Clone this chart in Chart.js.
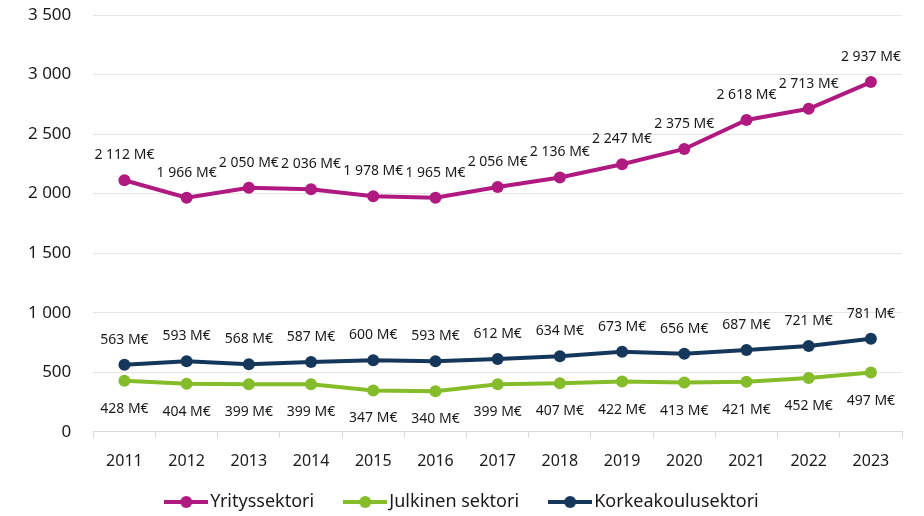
<!DOCTYPE html>
<html>
<head>
<meta charset="utf-8">
<script src="https://cdn.jsdelivr.net/npm/chart.js@4"></script>
<style>
html,body{margin:0;padding:0;background:#fff;}
#wrap{width:924px;height:516px;position:relative;}
</style>
</head>
<body>
<div id="wrap"><canvas id="line-chart"></canvas></div>
<script>
var years = ["2011","2012","2013","2014","2015","2016","2017","2018","2019","2020","2021","2022","2023"];
var yritys = [2112,1966,2050,2036,1978,1965,2056,2136,2247,2375,2618,2713,2937];
var julkinen = [428,404,399,399,347,340,399,407,422,413,421,452,497];
var korkea = [563,593,568,587,600,593,612,634,673,656,687,721,781];
var seriesNames = ["Yrityssektori","Julkinen sektori","Korkeakoulusektori"];
var colors = ["#B0197F","#84BD29","#15375C"];

function fmt(v){
  return String(v).replace(/\B(?=(\d{3})+(?!\d))/g, " ");
}

function legendIcon(color){
  var c = document.createElement("canvas");
  c.width = 44; c.height = 14;
  var g = c.getContext("2d");
  g.strokeStyle = color; g.lineWidth = 4;
  g.beginPath(); g.moveTo(0,7); g.lineTo(44,7); g.stroke();
  g.fillStyle = color;
  g.beginPath(); g.arc(22,7,6,0,Math.PI*2); g.fill();
  return c;
}

// labels drawn from the points' own positions
var valueLabels = {
  id: "valueLabels",
  afterDatasetsDraw: function(chart){
    var ctx = chart.ctx;
    ctx.save();
    ctx.font = "14px 'Noto Sans'";
    ctx.fillStyle = "#1a1a1a";
    ctx.textAlign = "center";
    ctx.textBaseline = "middle";
    chart.data.datasets.forEach(function(ds, i){
      var meta = chart.getDatasetMeta(i);
      var dy = ds.labelPos === "below" ? 28 : -25;
      meta.data.forEach(function(pt, j){
        ctx.fillText(fmt(ds.data[j]) + " M€", pt.x, pt.y + dy);
      });
    });
    ctx.restore();
  }
};

// keep the legend band short
var legendHeight = {
  id: "legendHeight",
  beforeInit: function(chart){
    var orig = chart.legend.fit;
    chart.legend.fit = function(){
      orig.bind(chart.legend)();
      this.height = 31;
    };
  }
};

new Chart(document.getElementById("line-chart"), {
  type: "line",
  data: {
    labels: years,
    datasets: [
      {label: seriesNames[0], data: yritys, borderColor: colors[0], backgroundColor: colors[0], labelPos: "above", icon: legendIcon(colors[0])},
      {label: seriesNames[1], data: julkinen, borderColor: colors[1], backgroundColor: colors[1], labelPos: "below", icon: legendIcon(colors[1])},
      {label: seriesNames[2], data: korkea, borderColor: colors[2], backgroundColor: colors[2], labelPos: "above", icon: legendIcon(colors[2])}
    ]
  },
  options: {
    responsive: true,
    maintainAspectRatio: false,
    animation: false,
    elements: {
      line: {borderWidth: 4, tension: 0},
      point: {radius: 6, hoverRadius: 6, borderWidth: 0}
    },
    layout: {padding: {top: 15, right: 22, left: 28, bottom: 0}},
    scales: {
      x: {
        offset: true,
        grid: {display: true, offset: true, drawOnChartArea: false, drawTicks: true, tickLength: 6, color: "#d9d9d9"},
        border: {display: true, color: "#d9d9d9"},
        ticks: {color: "#1a1a1a", font: {family: "'Noto Sans'", size: 16}, padding: 14}
      },
      y: {
        min: 0, max: 3500,
        grid: {color: "#e6e6e6", drawTicks: true, tickLength: 22, tickColor: "rgba(0,0,0,0)"},
        border: {display: false},
        ticks: {stepSize: 500, color: "#1a1a1a", font: {family: "'Noto Sans'", size: 17}, padding: 0,
          callback: function(v){ return fmt(v); }}
      }
    },
    plugins: {
      tooltip: {enabled: false},
      legend: {
        position: "bottom",
        labels: {
          usePointStyle: true,
          pointStyleWidth: 30,
          padding: 8,
          color: "#1a1a1a",
          font: {family: "'Noto Sans'", size: 18},
          generateLabels: function(chart){
            return chart.data.datasets.map(function(ds, i){
              var pad = i < chart.data.datasets.length - 1 ? "      " : "";
              return {text: ds.label + pad, pointStyle: ds.icon, fillStyle: ds.borderColor, strokeStyle: ds.borderColor, lineWidth: 0, hidden: false, datasetIndex: i, fontColor: "#1a1a1a"};
            });
          }
        }
      }
    }
  },
  plugins: [valueLabels, legendHeight]
});
</script>
</body>
</html>
